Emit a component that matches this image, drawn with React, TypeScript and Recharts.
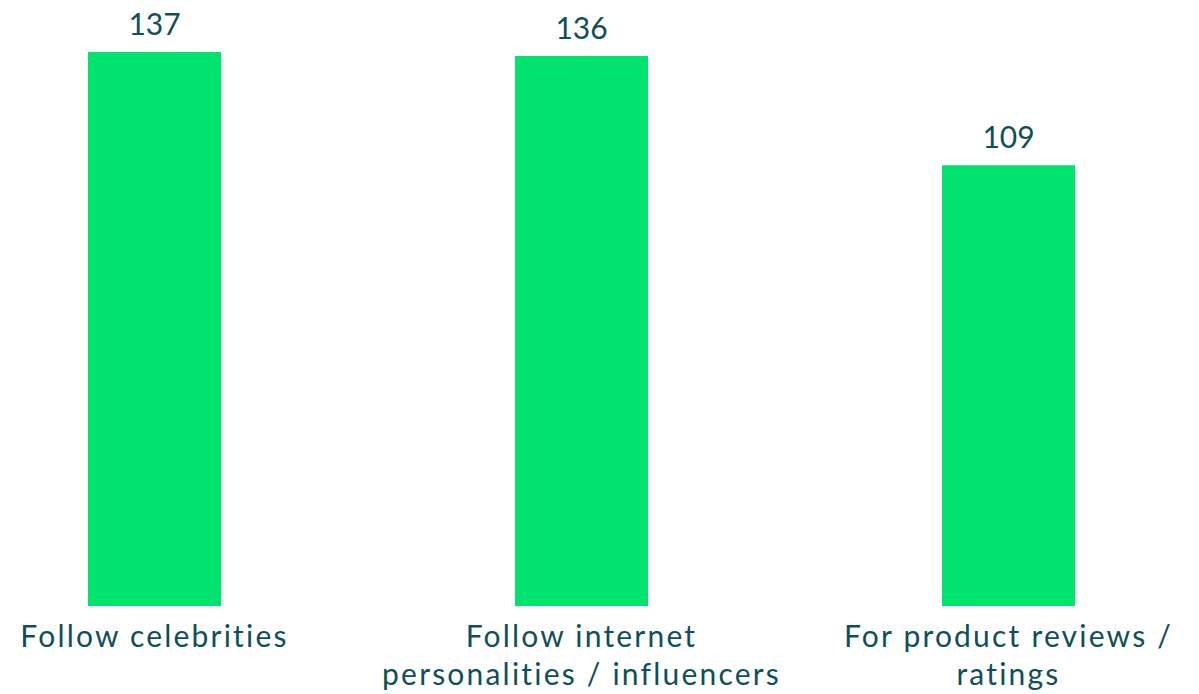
import { BarChart, Bar, XAxis, YAxis, LabelList } from "recharts";

const categories = ["Follow celebrities", "Follow internet personalities / influencers", "For product reviews / ratings"];
const tickLines = [
  ["Follow celebrities"],
  ["Follow internet", "personalities / influencers"],
  ["For product reviews /", "ratings"],
];
const values = [137, 136, 109];

const data = categories.map((name, i) => ({ name, value: values[i] }));

const TEXT = "#0e4f59";
const FONT = "Lato, 'Open Sans', sans-serif";

function CategoryTick(props: any) {
  const { x, y, payload } = props;
  const lines = tickLines[payload.index] || [payload.value];
  return (
    <g>
      {lines.map((line, i) => (
        <text
          key={i}
          x={x}
          y={y + 41 + i * 38}
          textAnchor="middle"
          fill={TEXT}
          fontSize={30}
          fontFamily={FONT}
          letterSpacing={2.2}
        >
          {line}
        </text>
      ))}
    </g>
  );
}

export default function App() {
  return (
    <div style={{ position: "absolute", left: 0, top: 0, width: 1199, height: 694, overflow: "hidden", background: "#fff" }}>
      <div style={{ marginLeft: -59 }}>
        <BarChart width={1281} height={694} data={data} margin={{ top: 52, right: 0, bottom: 58, left: 0 }}>
          <XAxis dataKey="name" axisLine={false} tickLine={false} tickSize={0} tickMargin={0} interval={0} tick={<CategoryTick />} />
          <YAxis hide domain={[0, 137]} />
          <Bar dataKey="value" fill="#00e36e" barSize={133} isAnimationActive={false}>
            <LabelList dataKey="value" position="top" offset={17} fill={TEXT} fontSize={30} fontFamily={FONT} />
          </Bar>
        </BarChart>
      </div>
    </div>
  );
}
